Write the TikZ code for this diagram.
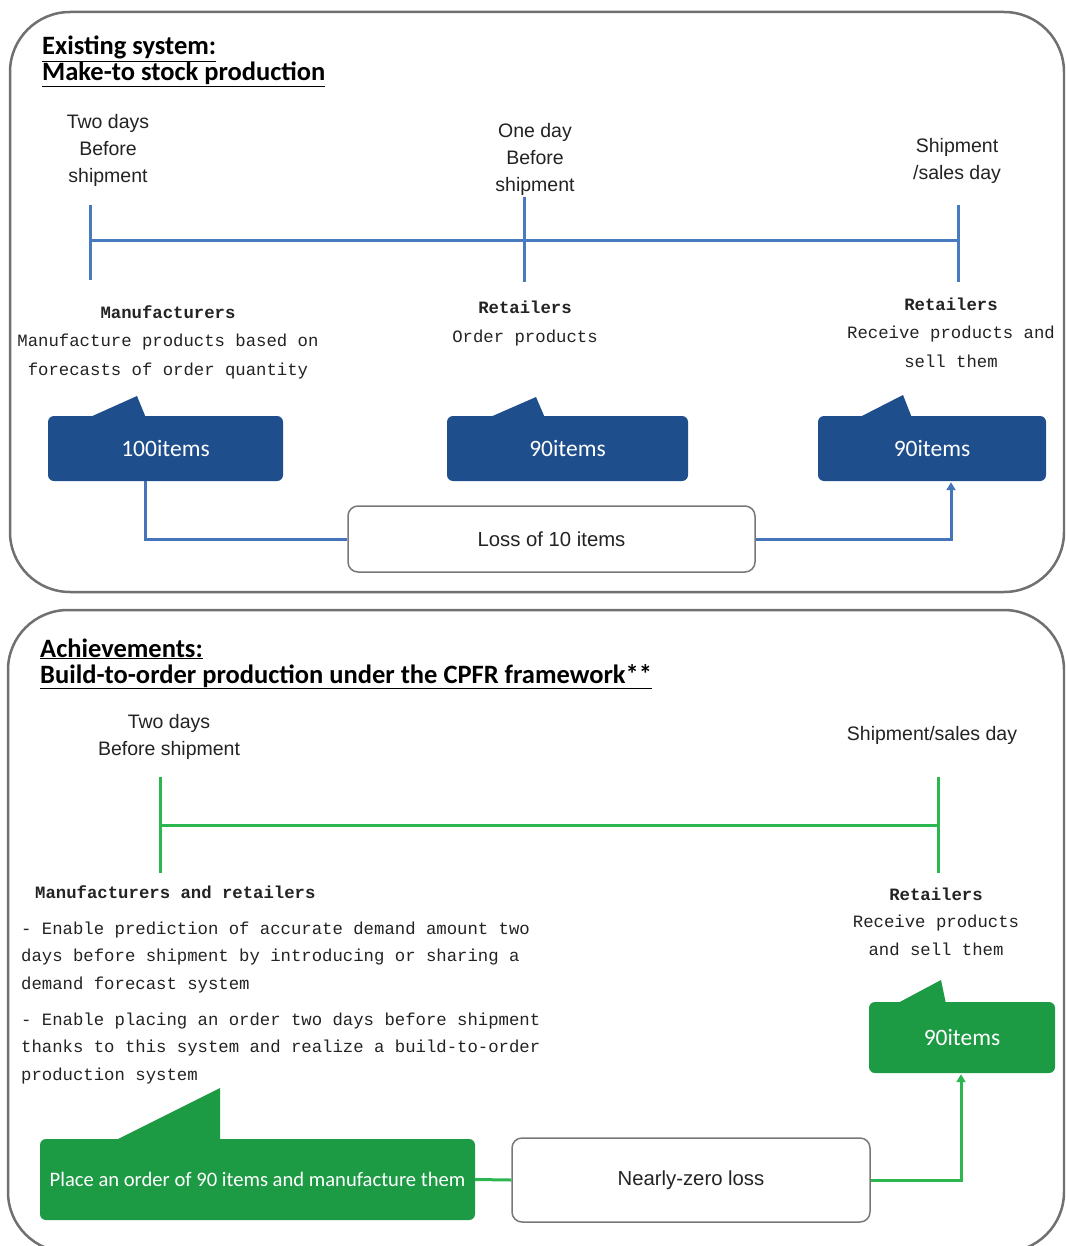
\documentclass[tikz,border=0pt]{standalone}
\usepackage{fontspec}
\setmainfont{Liberation Sans}
\newfontfamily\monof{Liberation Mono}
\newfontfamily\carl{Carlito}
\usetikzlibrary{arrows.meta}
\definecolor{frameg}{RGB}{112,112,112}
\definecolor{tlblue}{RGB}{72,122,192}
\definecolor{boxblue}{RGB}{31,78,140}
\definecolor{cblue}{RGB}{70,116,186}
\definecolor{tlgreen}{RGB}{44,182,80}
\definecolor{boxgreen}{RGB}{28,154,68}
\definecolor{txt}{RGB}{35,35,35}
\definecolor{lossg}{RGB}{120,120,120}
\begin{document}
\begin{tikzpicture}[x=1pt,y=-1pt,
  frame/.style={draw=frameg,line width=2.5pt,rounded corners=60pt},
  ttl/.style={font=\carl\bfseries\fontsize{26.5}{26}\selectfont,anchor=base west,inner sep=0,align=left,text=black},
  tlab/.style={font=\fontsize{19.5}{27}\selectfont,anchor=base,inner sep=0,align=center,text=txt},
  mtxt/.style={font=\monof\fontsize{17.3}{28.5}\selectfont,anchor=base,inner sep=0,align=center,text=txt},
  itembox/.style={rounded corners=6pt,inner sep=0,text=white,font=\carl\fontsize{23.5}{24}\selectfont},
  bluebox/.style={itembox,fill=boxblue},
  greenbox/.style={itembox,fill=boxgreen},
  lossbox/.style={draw=lossg,line width=1.5pt,rounded corners=10pt,fill=white,inner sep=0,font=\fontsize{20.3}{22}\selectfont,text=txt},
  bluetl/.style={draw=tlblue,line width=3pt},
  greentl/.style={draw=tlgreen,line width=3pt},
  bconn/.style={draw=cblue,line width=3pt},
  gconn/.style={draw=tlgreen,line width=3pt},
  tip/.style={-{Triangle[length=8pt,width=9pt]}},
]
\useasboundingbox (0,0) rectangle (1065,1246);
\clip (0,0) rectangle (1065,1246);
\fill[white] (0,0) rectangle (1065,1246);

% frames
\draw[frame] (10,12) rectangle (1064,592);
\draw[frame] (8,610) rectangle (1064,1252);

% titles (anchor = baseline of last line)
\node[ttl] (t1) at (42,81) {\underline{Existing system:}\\\underline{Make-to stock production}};
\node[ttl] (t2) at (40,683) {\underline{Achievements:}\\\underline{Build-to-order production under the CPFR framework**}};

% top timeline
\coordinate (tA) at (90,241);
\coordinate (tB) at (524,241);
\coordinate (tC) at (958,241);
\draw[bluetl] (tA) -- (tC);
\draw[bluetl] (90,205) -- (90,280);
\draw[bluetl] (524,197) -- (524,282);
\draw[bluetl] (958,205) -- (958,282);

\node[tlab] (la1) at (108,183) {Two days\\Before\\shipment};
\node[tlab] (la2) at (535,192) {One day\\Before\\shipment};
\node[tlab] (la3) at (957,180) {Shipment\\/sales day};

\node[mtxt] (m1) at (168,375) {\textbf{Manufacturers}\\Manufacture products based on\\forecasts of order quantity};
\node[mtxt] (m2) at (525,342) {\textbf{Retailers}\\Order products};
\node[mtxt] (m3) at (951,367) {\textbf{Retailers}\\Receive products and\\sell them};

% top item boxes
\fill[boxblue] (88,418) -- (137,396) -- (146,418) -- cycle;
\fill[boxblue] (488,418) -- (536,397) -- (545,418) -- cycle;
\fill[boxblue] (858,418) -- (903,395) -- (912,418) -- cycle;
\node[bluebox,minimum width=235pt,minimum height=65pt] (b1) at (165.5,448.5) {100items};
\node[bluebox,minimum width=241pt,minimum height=65pt] (b2) at (567.5,448.5) {90items};
\node[bluebox,minimum width=228pt,minimum height=65pt] (b3) at (932,448.5) {90items};

\node[lossbox,minimum width=407pt,minimum height=66pt] (loss) at (551.5,539) {Loss of 10 items};
\draw[bconn] ([xshift=-20.5pt]b1.south) |- (loss.west);
\draw[bconn,tip,shorten >=1pt] (loss.east) -| ([xshift=19pt]b3.south);

% bottom timeline
\coordinate (gA) at (160,825);
\coordinate (gB) at (938,825);
\draw[greentl] (gA) -- (gB);
\draw[greentl] (160,777) -- (160,873);
\draw[greentl] (938,777) -- (938,873);

\node[tlab] (lb1) at (169,755) {Two days\\Before shipment};
\node[tlab] (lb2) at (932,740) {Shipment/sales day};

\node[mtxt,anchor=base west] (m4) at (35,898) {\textbf{Manufacturers and retailers}};
\node[mtxt,anchor=base west,align=left,font=\monof\fontsize{17.3}{27.5}\selectfont] (m5) at (21,1080)
  {- Enable prediction of accurate demand amount two\\
   days before shipment by introducing or sharing a\\
   demand forecast system\\[8.5pt]
   - Enable placing an order two days before shipment\\
   thanks to this system and realize a build-to-order\\
   production system};
\node[mtxt,font=\monof\fontsize{17.3}{27.5}\selectfont] (m6) at (936,955) {\textbf{Retailers}\\Receive products\\and sell them};

% bottom boxes
\fill[boxgreen] (896,1004) -- (941,980) -- (946,1004) -- cycle;
\node[greenbox,minimum width=186pt,minimum height=71pt] (g2) at (962,1037.5) {90items};
\fill[boxgreen] (114,1141) -- (220,1088) -- (220,1141) -- cycle;
\node[greenbox,minimum width=435pt,minimum height=81pt,font=\carl\fontsize{20.6}{22}\selectfont] (g1) at (257.5,1179.5) {Place an order of 90 items and manufacture them};

\node[lossbox,minimum width=358pt,minimum height=84pt] (zero) at (691,1180) {Nearly-zero loss};
\draw[gconn] (g1.east) -- (zero.west);
\draw[gconn,tip,shorten >=1pt] (zero.east) -| ([xshift=-1pt]g2.south);
\end{tikzpicture}
\end{document}
